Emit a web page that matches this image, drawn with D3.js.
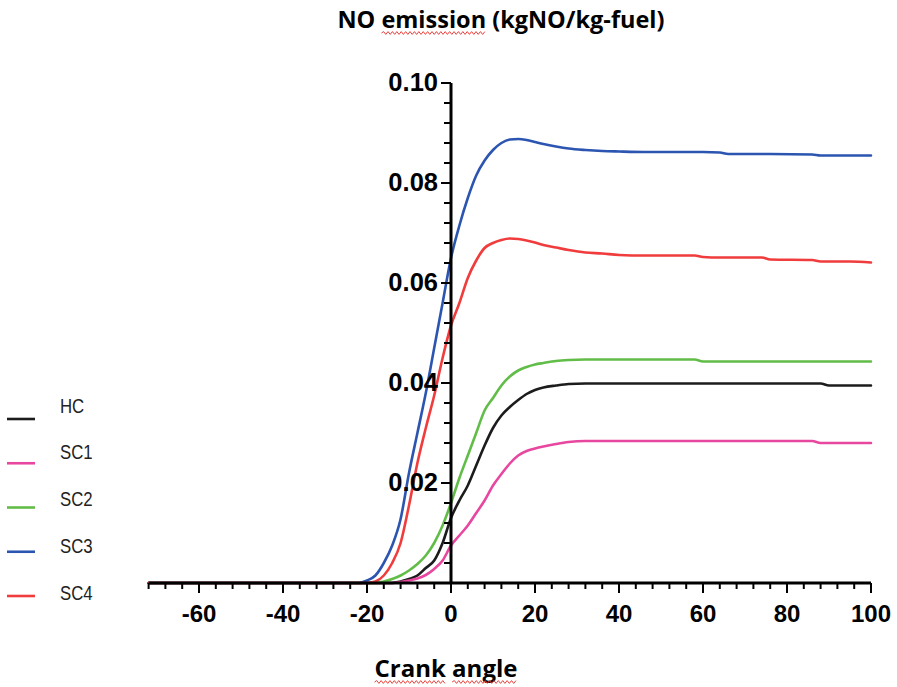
<!DOCTYPE html>
<html>
<head>
<meta charset="utf-8">
<script src="https://cdn.jsdelivr.net/npm/d3@7"></script>
<style>
  html, body { margin: 0; padding: 0; background: #fff; }
  svg { display: block; }
</style>
</head>
<body>
<svg id="chart" width="897" height="687"></svg>
<script>
// Crank angle grid (deg) shared by every series
const crankAngle = [-72, -22, -20, -18, -16, -14, -12, -10, -8, -6, -4, -2, 0, 2, 4, 6, 8, 10, 12, 14, 16, 18, 20, 22, 25, 28, 32, 36, 40, 46, 52, 58, 60, 64, 66, 74, 76, 86, 88, 90, 95, 100];

// NO emission (kgNO/kg-fuel) per case
const noHC  = [0, 0, 0, 0, 0, 0, 0.0003, 0.0008, 0.0015, 0.003, 0.0045, 0.008, 0.013, 0.0165, 0.0195, 0.0235, 0.0275, 0.031, 0.0335, 0.0352, 0.0366, 0.0378, 0.0386, 0.0391, 0.0395, 0.0398, 0.0399, 0.0399, 0.0399, 0.0399, 0.0399, 0.0399, 0.0399, 0.0399, 0.0399, 0.0399, 0.0399, 0.0399, 0.0399, 0.0395, 0.0395, 0.0395];
const noSC1 = [0, 0, 0, 0, 0, 0, 0.0002, 0.0005, 0.0009, 0.0016, 0.0028, 0.0045, 0.0075, 0.0095, 0.0115, 0.014, 0.0165, 0.0195, 0.0218, 0.0239, 0.0255, 0.0264, 0.0269, 0.0273, 0.0278, 0.0282, 0.0284, 0.0284, 0.0284, 0.0284, 0.0284, 0.0284, 0.0284, 0.0284, 0.0284, 0.0284, 0.0284, 0.0284, 0.028, 0.028, 0.028, 0.028];
const noSC2 = [0, 0, 0, 0, 0.0003, 0.0008, 0.0015, 0.0025, 0.0038, 0.0055, 0.008, 0.0115, 0.016, 0.021, 0.0255, 0.03, 0.0345, 0.037, 0.0395, 0.0413, 0.0425, 0.0432, 0.0437, 0.044, 0.0444, 0.0446, 0.0447, 0.0447, 0.0447, 0.0447, 0.0447, 0.0447, 0.0443, 0.0443, 0.0443, 0.0443, 0.0443, 0.0443, 0.0443, 0.0443, 0.0443, 0.0443];
const noSC3 = [0, 0, 0.0005, 0.0015, 0.004, 0.0075, 0.0128, 0.022, 0.03, 0.038, 0.047, 0.056, 0.065, 0.0715, 0.077, 0.0815, 0.0845, 0.0866, 0.088, 0.0887, 0.0888, 0.0886, 0.0882, 0.0878, 0.0873, 0.0869, 0.0866, 0.0864, 0.0863, 0.0862, 0.0862, 0.0862, 0.0862, 0.0861, 0.0858, 0.0858, 0.0858, 0.0857, 0.0855, 0.0855, 0.0855, 0.0855];
const noSC4 = [0, 0, 0, 0.0003, 0.0015, 0.004, 0.008, 0.0155, 0.024, 0.031, 0.0375, 0.045, 0.0515, 0.056, 0.061, 0.0645, 0.067, 0.068, 0.0686, 0.0689, 0.0688, 0.0685, 0.0681, 0.0676, 0.0671, 0.0666, 0.0661, 0.0659, 0.0656, 0.0655, 0.0655, 0.0655, 0.0652, 0.0651, 0.0651, 0.0651, 0.0647, 0.0646, 0.0643, 0.0643, 0.0643, 0.0641];

const seriesNames  = ["HC", "SC1", "SC2", "SC3", "SC4"];
const seriesValues = [noHC, noSC1, noSC2, noSC3, noSC4];
const seriesColors = ["#1c1c1c", "#e8479f", "#62bd48", "#2b55b0", "#f03c3c"];

// Axis ticks
const xMajorTicks = [-60, -40, -20, 0, 20, 40, 60, 80, 100];
const yMajorTicks = [0.02, 0.04, 0.06, 0.08, 0.10];

const svg = d3.select("#chart");

const x = d3.scaleLinear().domain([-72, 100]).range([148.6, 871]);
const y = d3.scaleLinear().domain([0, 0.1]).range([583, 83]);

const FONT = "'Liberation Sans', Arial, Helvetica, sans-serif";

// Curves
const line = d3.line()
  .x(d => x(d[0]))
  .y(d => y(d[1]))
  .curve(d3.curveMonotoneX);

const gLines = svg.append("g").attr("fill", "none").attr("stroke-width", 2.6)
  .attr("stroke-linejoin", "round").attr("stroke-linecap", "round");
seriesValues.forEach((vals, i) => {
  gLines.append("path")
    .datum(crankAngle.map((a, k) => [a, vals[k]]))
    .attr("stroke", seriesColors[i])
    .attr("d", line);
});

// X axis (major + minor ticks) along y = 0
const xMinor = d3.range(-72, 100.001, 4);
const gxMinor = svg.append("g").attr("transform", `translate(0,${y(0)})`)
  .call(d3.axisBottom(x).offset(0).tickValues(xMinor).tickSize(6).tickFormat(""));
const gx = svg.append("g").attr("transform", `translate(0,${y(0)})`)
  .call(d3.axisBottom(x).offset(0).tickValues(xMajorTicks).tickSize(10).tickSizeOuter(0)
    .tickPadding(12).tickFormat(d => String(d)));

// Y axis (major + minor ticks) along x = 0
const yMinor = d3.range(0, 0.1001, 0.004);
const gyMinor = svg.append("g").attr("transform", `translate(${x(0)},0)`)
  .call(d3.axisLeft(y).offset(0).tickValues(yMinor).tickSize(7).tickFormat(""));
const gy = svg.append("g").attr("transform", `translate(${x(0)},0)`)
  .call(d3.axisLeft(y).offset(0).tickValues(yMajorTicks).tickSize(10).tickSizeOuter(0)
    .tickPadding(3).tickFormat(d3.format(".2f")));

[gxMinor, gx, gyMinor, gy].forEach(g => {
  g.select(".domain").attr("stroke", "#000").attr("stroke-width", 3);
  g.selectAll(".tick line").attr("stroke", "#000").attr("stroke-width", 2);
});
gxMinor.select(".domain").remove();
gyMinor.select(".domain").remove();

gx.selectAll(".tick text")
  .attr("font-family", FONT).attr("font-weight", "bold").attr("font-size", 24)
  .attr("fill", "#000").attr("dy", "0.71em");
gy.selectAll(".tick text")
  .attr("font-family", FONT).attr("font-weight", "bold").attr("font-size", 25.5)
  .attr("fill", "#000");

// Title and axis label
const title = svg.append("text")
  .attr("x", 501).attr("y", 28).attr("text-anchor", "middle")
  .attr("font-family", "'Open Sans', sans-serif").attr("font-weight", 700).attr("font-size", 23.5)
  .attr("fill", "#000")
  .text("NO emission (kgNO/kg-fuel)");

const xLabel = svg.append("text")
  .attr("x", 446).attr("y", 677).attr("text-anchor", "middle")
  .attr("font-family", "'Open Sans', sans-serif").attr("font-weight", 700).attr("font-size", 24)
  .attr("fill", "#000")
  .text("Crank angle");

// Red wavy underline beneath selected words
function wavy(x0, x1, yy) {
  const p = d3.path();
  const step = 2.2;
  p.moveTo(x0, yy);
  let up = true;
  for (let xx = x0 + step; xx <= x1; xx += step) {
    p.lineTo(xx, yy + (up ? -1.4 : 1.4));
    up = !up;
  }
  return p.toString();
}
function underlineWord(textSel, start, count, yy) {
  const node = textSel.node();
  const bb = node.getBBox();
  const x0 = bb.x + (start > 0 ? node.getSubStringLength(0, start) : 0);
  const w = node.getSubStringLength(start, count);
  svg.append("path").attr("d", wavy(x0, x0 + w, yy))
    .attr("fill", "none").attr("stroke", "#e8413b").attr("stroke-width", 1);
}
underlineWord(title, 3, 8, 33);
underlineWord(xLabel, 0, 5, 682);
underlineWord(xLabel, 6, 5, 682);

// Legend
const legend = svg.append("g");
seriesNames.forEach((name, i) => {
  const ly = 419 + i * 44.25;
  legend.append("line")
    .attr("x1", 7).attr("x2", 35).attr("y1", ly).attr("y2", ly)
    .attr("stroke", seriesColors[i]).attr("stroke-width", 2.6);
  legend.append("text")
    .attr("transform", `translate(60,${412.5 + i * 46.75}) scale(0.84,1)`)
    .attr("font-family", FONT).attr("font-size", 20).attr("fill", "#222")
    .text(name);
});
</script>
</body>
</html>
